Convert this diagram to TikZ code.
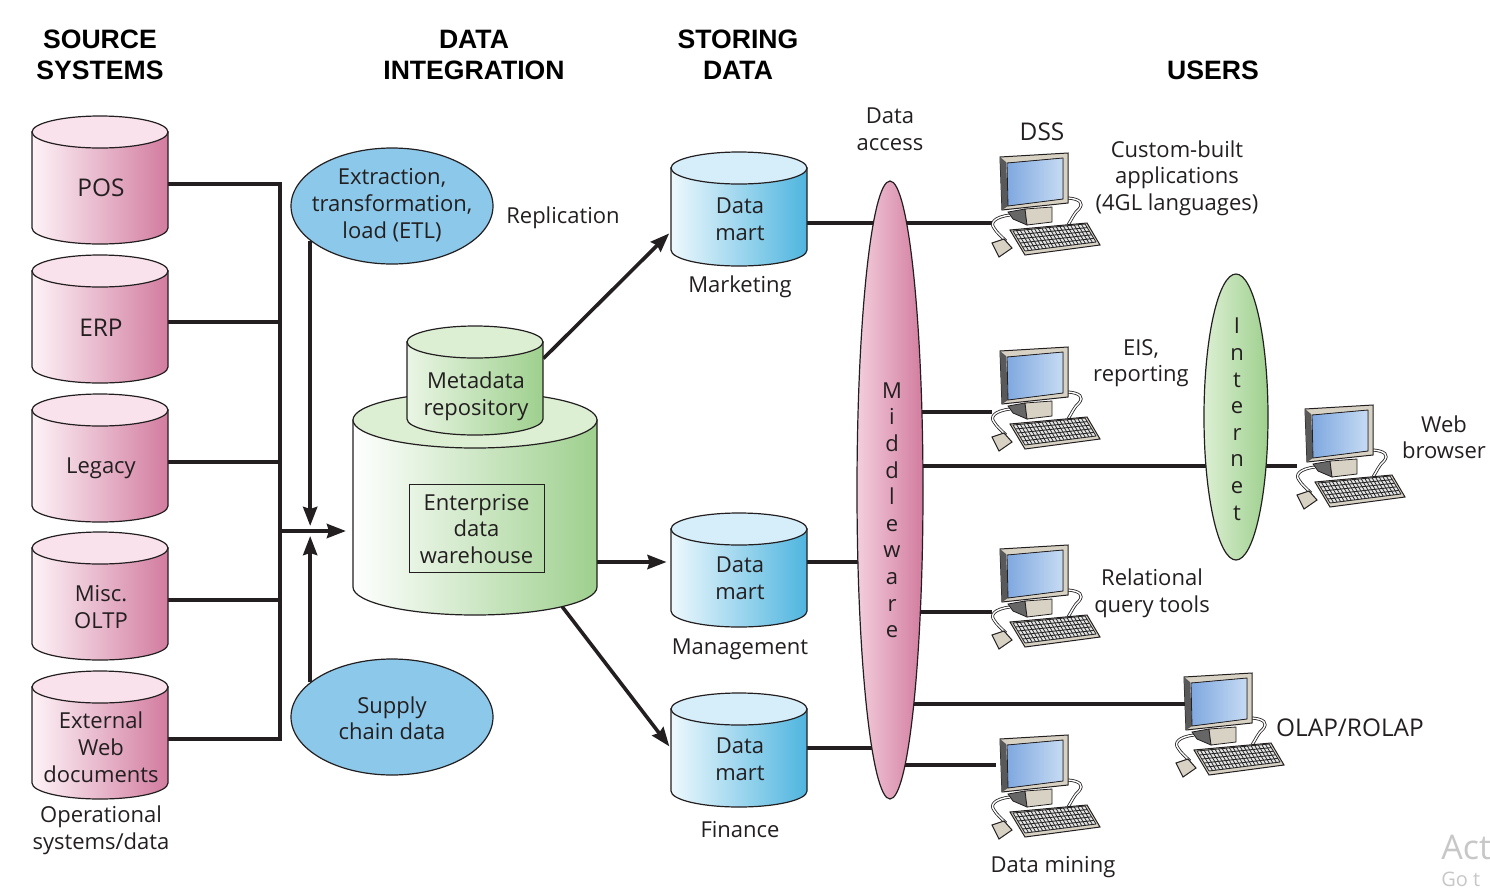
\documentclass[tikz,border=0pt]{standalone}
\usepackage{fontspec}
\setmainfont{Open Sans}
\newfontfamily\headfont{Liberation Sans}
\usetikzlibrary{shapes.geometric,arrows.meta,calc,backgrounds}
\definecolor{pinkA}{HTML}{FDF3F7}\definecolor{pinkB}{HTML}{F3CEDC}\definecolor{pinkC}{HTML}{D27C9F}\definecolor{pinkT}{HTML}{F9E2EB}
\definecolor{grnA}{HTML}{FFFFFF}\definecolor{grnB}{HTML}{DDEFD5}\definecolor{grnC}{HTML}{9ED08E}\definecolor{grnT}{HTML}{DCEFD3}
\definecolor{bluA}{HTML}{EEF8FD}\definecolor{bluB}{HTML}{BFE3F4}\definecolor{bluC}{HTML}{4FB5DF}\definecolor{bluT}{HTML}{D6EEFA}
\definecolor{oval}{HTML}{8CC8EA}\definecolor{ink}{HTML}{231F20}
\definecolor{beige}{HTML}{D8D2C4}\definecolor{scrA}{HTML}{7FA8E0}\definecolor{scrB}{HTML}{C6DBF3}
\tikzset{
  x=0.5pt,y=-0.5pt,
  txt/.style={font=\fontsize{11}{13.3}\selectfont,align=center,text=ink,inner sep=0pt,yshift=-0.6pt},
  captxt/.style={txt,font=\fontsize{12.2}{13.3}\selectfont},
  headtxt/.style={font=\headfont\bfseries\fontsize{13.3}{15.5}\selectfont,align=center,text=black,inner sep=0pt},
  outline/.style={draw=ink,line width=0.6pt},
  pinkbody/.style={left color=pinkA,middle color=pinkB,right color=pinkC},
  grnbody/.style={left color=grnA,middle color=grnB,right color=grnC},
  metabody/.style={left color=grnT!60!white,middle color=grnT,right color=grnC},
  blubody/.style={left color=bluA,middle color=bluB,right color=bluC},
  anchorbox/.style={rectangle,inner sep=0pt,draw=none,fill=none},
  oval/.style={ellipse,inner sep=0pt,outline,fill=oval,minimum width=101pt,minimum height=58pt},
  tall/.style={ellipse,inner sep=0pt,outline},
  conn/.style={draw=ink,line width=2pt},
  connthin/.style={draw=ink,line width=1.8pt},
  tip/.style={-{Stealth[length=9.5pt,width=7pt,inset=1pt]}},
}
% name, cx, top, bottom, rx, ry, body style, top colour
\newcommand\cyl[8]{%
  \pgfmathsetmacro\cL{#2-#5}\pgfmathsetmacro\cR{#2+#5}
  \pgfmathsetmacro\cTm{#3+#6}\pgfmathsetmacro\cBm{#4-#6}
  \pgfmathsetmacro\kx{0.5523*#5}\pgfmathsetmacro\ky{0.5523*#6}
  \pgfmathsetmacro\cXa{#2-\kx}\pgfmathsetmacro\cXb{#2+\kx}
  \pgfmathsetmacro\cYa{\cBm+\ky}\pgfmathsetmacro\cYb{\cTm-\ky}\pgfmathsetmacro\cYc{\cTm+\ky}
  \path[outline,#7] (\cL,\cTm) -- (\cL,\cBm) .. controls (\cL,\cYa) and (\cXa,#4) .. (#2,#4) .. controls (\cXb,#4) and (\cR,\cYa) .. (\cR,\cBm) -- (\cR,\cTm) -- cycle;
  \path[outline,fill=#8] (\cL,\cTm) .. controls (\cL,\cYb) and (\cXa,#3) .. (#2,#3) .. controls (\cXb,#3) and (\cR,\cYb) .. (\cR,\cTm) .. controls (\cR,\cYc) and (\cXb,#6+\cTm) .. (#2,#6+\cTm) .. controls (\cXa,#6+\cTm) and (\cL,\cYc) .. (\cL,\cTm) -- cycle;
  \pgfmathsetmacro\cMid{(#3+#4)/2}\pgfmathsetmacro\cW{#5}\pgfmathsetmacro\cH{(#4-#3)/2}
  \node[anchorbox,minimum width=\cW pt,minimum height=\cH pt] (#1) at (#2,\cMid) {};
}
% name, x, y (top-left of the monitor)
\newcommand\computer[3]{%
  \begin{scope}[shift={(#2,#3)}]
    % cables
    \foreach \w/\c in {1.5pt/ink,0.7pt/white}{
      \draw[line width=\w,draw=\c] (10,62) .. controls (-6,64) and (-10,70) .. (-6,75) .. controls (-3,80) and (2,84) .. (6,88);
      \draw[line width=\w,draw=\c] (68,45) .. controls (80,46) and (84,50) .. (79,56) .. controls (74,60) and (72,66) .. (68,72);
    }
    % stand
    \filldraw[draw=ink,fill=black!60,line width=0.4pt] (8,59) -- (25,56) -- (27,72) -- (13,66) -- cycle;
    \filldraw[draw=ink,fill=beige,line width=0.4pt] (25,56) -- (52,54) -- (52,69) -- (27,72) -- cycle;
    % monitor
    \filldraw[draw=ink,fill=beige,line width=0.5pt] (0,4) -- (68,0) -- (68,50) -- (2,57) -- cycle;
    \fill[black!65] (0,4) -- (6,9) -- (8,53) -- (2,57) -- cycle;
    \filldraw[draw=ink,line width=0.4pt,left color=scrA,right color=scrB] (7,10) -- (63,5) -- (63,46) -- (8,53) -- cycle;
    % keyboard
    \filldraw[draw=ink,fill=beige,line width=0.5pt] (10,77) -- (87,70) -- (100,92) -- (25,102) -- cycle;
    \coordinate (kA) at (13,78);\coordinate (kB) at (85,71);\coordinate (kC) at (96,89);\coordinate (kD) at (25,98);
    \fill[black!10] (kA) -- (kB) -- (kC) -- (kD) -- cycle;
    \foreach \t in {0,0.2,0.4,0.6,0.8,1}
      \draw[black!85,line width=0.45pt] ($(kA)!\t!(kD)$) -- ($(kB)!\t!(kC)$);
    \foreach \t in {0,0.05,...,1.01}
      \draw[black!85,line width=0.4pt] ($(kA)!\t!(kB)$) -- ($(kD)!\t!(kC)$);
    % mouse
    \filldraw[draw=ink,fill=beige,line width=0.5pt] (-8,90) -- (4,86) -- (12,95) -- (-1,104) -- cycle;
    \node[anchorbox,minimum width=54pt,minimum height=52pt] (#1) at (46,52) {};
  \end{scope}
}
\begin{document}
\begin{tikzpicture}
\useasboundingbox (0,0) rectangle (1490,890);
% headings
\node[headtxt] (h1) at (100,55) {SOURCE\\SYSTEMS};
\node[headtxt] (h2) at (474,55) {DATA\\INTEGRATION};
\node[headtxt] (h3) at (738,55) {STORING\\DATA};
\node[headtxt] (h4) at (1213,70) {USERS};
% source cylinders
\cyl{pos}{100}{116}{244}{68}{16}{pinkbody}{pinkT}
\cyl{erp}{100}{255}{383}{68}{16}{pinkbody}{pinkT}
\cyl{leg}{100}{394}{522}{68}{16}{pinkbody}{pinkT}
\cyl{misc}{100}{532}{660}{68}{16}{pinkbody}{pinkT}
\cyl{ext}{100}{671}{799}{68}{16}{pinkbody}{pinkT}
\node[captxt] (post) at (101,187) {POS};
\node[captxt] (erpt) at (101,327) {ERP};
\node[txt] (legt) at (101,467) {Legacy};
\node[txt] (misct) at (101,606) {Misc.\\OLTP};
\node[txt] (extt) at (101,746) {External\\Web\\documents};
\node[txt] (opsys) at (101,829) {Operational\\systems/data};
% ovals
\node[oval] (etl) at (392,206) {};
\node[txt] (etlt) at (392,204) {Extraction,\\transformation,\\load (ETL)};
\node[oval] (sup) at (392,717) {};
\node[txt] (supt) at (392,717) {Supply\\chain data};
\node[txt] (repl) at (563,217) {Replication};
% warehouse
\cyl{edw}{475}{392}{615}{122}{28}{grnbody}{grnT}
\cyl{meta}{475}{326}{435}{68}{16}{metabody}{grnT}
\node[txt] (metat) at (476,395) {Metadata\\repository};
\node[txt,draw=ink,line width=0.5pt,minimum width=67.5pt,minimum height=44pt] (ewt) at (476.5,527.5) {Enterprise\\data\\warehouse};
% data marts
\cyl{ma}{739}{152}{266}{68}{16}{blubody}{bluT}
\cyl{mb}{739}{513}{627}{68}{16}{blubody}{bluT}
\cyl{mc}{739}{693}{807}{68}{16}{blubody}{bluT}
\node[txt] (mat) at (740,218) {Data\\mart};
\node[txt] (mbt) at (740,577) {Data\\mart};
\node[txt] (mct) at (740,758) {Data\\mart};
\node[txt] (mal) at (740,286) {Marketing};
\node[txt] (mbl) at (740,648) {Management};
\node[txt] (mcl) at (740,828) {Finance};
% middleware, internet
\node[tall,left color=pinkB,middle color=pinkT,right color=pinkC,minimum width=33pt,minimum height=309pt] (mw) at (890,490) {};
\node[txt] (mwt) at (892,509) {M\\i\\d\\d\\l\\e\\w\\a\\r\\e};
\node[tall,left color=grnT,middle color=grnT,right color=grnC,minimum width=32pt,minimum height=143pt] (inet) at (1236,417) {};
\node[txt] (inett) at (1237,418) {I\\n\\t\\e\\r\\n\\e\\t};
\node[txt] (acc) at (890,128) {Data\\access};
% computers
\computer{dss}{1000}{153}
\computer{eis}{1000}{347}
\computer{web}{1305}{405}
\computer{rel}{1000}{545}
\computer{ola}{1184}{673}
\computer{dmn}{1000}{735}
\node[captxt] (dsst) at (1042,131) {DSS};
\node[txt] (cust) at (1177,177) {Custom-built\\applications\\(4GL languages)};
\node[txt] (eist) at (1141,362) {EIS,\\reporting};
\node[txt] (webt) at (1444,436) {Web\\browser};
\node[txt] (relt) at (1152,592) {Relational\\query tools};
\node[captxt] (olat) at (1350,727) {OLAP/ROLAP};
\node[txt] (dmnt) at (1053,866) {Data mining};
% watermark
\node[anchor=base west,inner sep=0pt,text=black!22,font=\fontsize{17}{20}\selectfont] (wm1) at (1441,859) {Act};
\node[anchor=base west,inner sep=0pt,text=black!22,font=\fontsize{10}{12}\selectfont] (wm2) at (1441,886) {Go t};
% connectors behind the shapes
\begin{pgfonlayer}{background}
  \coordinate (busT) at (280,184);
  \coordinate (busB) at (280,739);
  \coordinate (hub) at (280,531);
  \coordinate (intoEdw) at (346,531);
  \coordinate (hubX) at (311,531);
  \draw[conn] ([yshift=-2pt]pos.east) -- (busT) -- (busB) -- ([yshift=-2pt]ext.east);
  \draw[conn] ([yshift=-1.5pt]erp.east) -- ++(112,0);
  \draw[conn] ([yshift=-1.75pt]leg.east) -- ++(112,0);
  \draw[conn] ([yshift=-2pt]misc.east) -- ++(112,0);
  \draw[conn,tip] (hub) -- (intoEdw);
  \draw[conn,tip,shorten >=2.5pt] (etl.203) -- (etl.203 |- hubX);
  \draw[connthin,tip,shorten >=2.5pt] (sup.157) -- (sup.157 |- hubX);
  % warehouse to marts
  \draw[connthin,tip,shorten >=1pt] ([yshift=11pt]meta.east) -- ([yshift=-11.5pt]ma.west);
  \draw[conn,tip,shorten >=2pt] ([yshift=-29.25pt]edw.east) -- ([yshift=4pt]mb.west);
  \draw[connthin,tip,shorten >=1pt] ([xshift=43.5pt,yshift=4.5pt]edw.south) -- ([yshift=1pt]mc.west);
  % marts, middleware, users
  \draw[conn] ([yshift=-7pt]ma.east) -- ([yshift=-9pt]dss.west);
  \draw[conn] ([yshift=4pt]mb.east) -- ([yshift=-36pt]mw.center);
  \draw[conn] ([yshift=1pt]mc.east) -- ([yshift=-129pt]mw.center);
  \draw[conn] ([yshift=39pt]mw.center) -- ([yshift=-6.5pt]eis.west);
  \draw[conn] ([yshift=12pt]mw.center) -- ([yshift=-24.5pt]inet.center);
  \draw[conn] ([yshift=-24.5pt]inet.center) -- ([yshift=-4.5pt]web.west);
  \draw[conn] ([yshift=-61pt]mw.center) -- ([yshift=-7.5pt]rel.west);
  \draw[conn] ([yshift=-107pt]mw.center) -- ([xshift=5pt,yshift=10.5pt]ola.west);
  \draw[conn] ([yshift=-137.5pt]mw.center) -- ([xshift=2pt,yshift=11pt]dmn.west);
\end{pgfonlayer}
\end{tikzpicture}
\end{document}
